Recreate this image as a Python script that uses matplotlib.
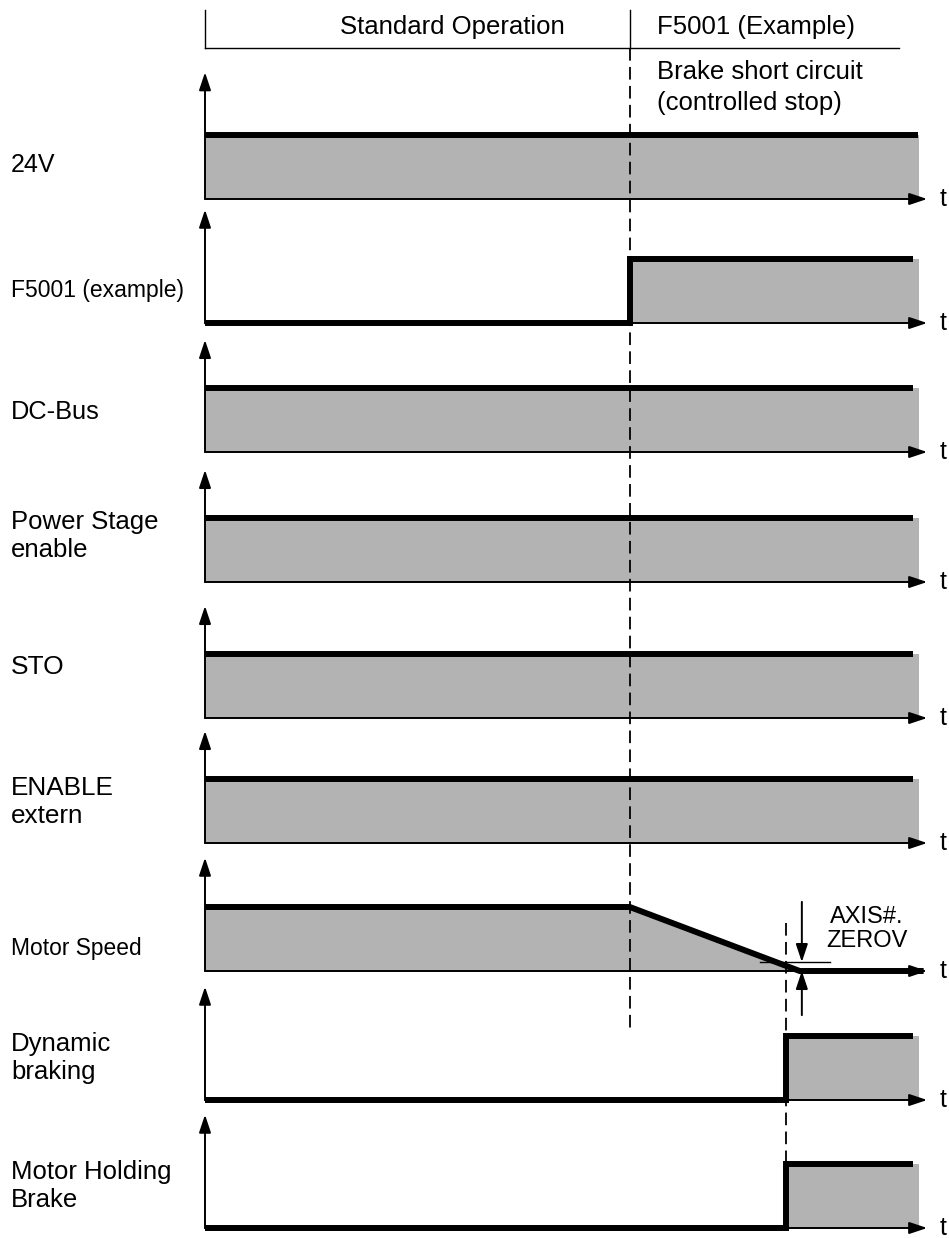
import matplotlib.pyplot as plt
import numpy as np

plt.rcParams['font.family'] = ['Liberation Sans', 'DejaVu Sans']

W, H = 949, 1238

# event times (arbitrary time units)
t_fault = 6.0     # F5001 occurs
t_brake = 8.2     # dynamic braking / holding brake engaged
t_zero = 8.4      # motor speed reaches AXIS#.ZEROV
t_end = 10.0
t_axis = 10.2

labels = ["24V", "F5001 (example)", "DC-Bus", "Power Stage\nenable", "STO",
          "ENABLE\nextern", "Motor Speed", "Dynamic\nbraking", "Motor Holding\nBrake"]
label_sizes = [18, 16.5, 18.3, 18.5, 19, 18.8, 16.4, 18.5, 18.5]

times = [
    [0, 10.07],
    [0, t_fault, t_fault, t_end],
    [0, t_end],
    [0, t_end],
    [0, t_end],
    [0, t_end],
    [0, t_fault, t_zero, 10.15],
    [0, t_brake, t_brake, t_end],
    [0, t_brake, t_brake, t_end],
]
levels = [
    [1, 1],
    [0, 0, 1, 1],
    [1, 1],
    [1, 1],
    [1, 1],
    [1, 1],
    [1, 1, 0, 0],
    [0, 0, 1, 1],
    [0, 0, 1, 1],
]
zerov = 0.14

# layout (pixels)
x0, px_t = 205, 70.8
baselines = [199, 323, 452, 582, 718, 843, 971, 1100, 1228]
label_y = [165, 290, 412, 536, 667, 802, 948, 1058, 1186]
tips = [1.98, 1.77, 1.75, 1.75, 1.75, 1.75, 1.77, 1.77, 1.77]
px_lvl = 64
ylo, yhi = -0.15, 2.1
fill_end = 10.08

xlim = (-x0 / px_t, (W - x0) / px_t)
gray = '#b3b3b3'
lw_sig = 4.3
lw_ax = 1.4
arrow = dict(arrowstyle='-|>,head_length=0.6,head_width=0.2', color='k',
             lw=lw_ax, mutation_scale=18, shrinkA=0, shrinkB=0)

fig = plt.figure(figsize=(W / 100, H / 100), dpi=100)

for i in range(len(labels)):
    base = baselines[i]
    bottom = 1 - (base - ylo * px_lvl) / H
    height = (yhi - ylo) * px_lvl / H
    ax = fig.add_axes([0, bottom, 1, height])
    ax.set_xlim(xlim)
    ax.set_ylim(ylo, yhi)
    ax.axis('off')
    t = np.array(times[i], dtype=float)
    v = np.array(levels[i], dtype=float)
    tf = t.copy()
    if v[-1] > 0:
        tf[-1] = max(tf[-1], fill_end)
    ax.fill_between(tf, v, 0, color=gray, lw=0, zorder=1)
    ax.annotate('', xy=(t_axis, 0), xytext=(0, 0), arrowprops=arrow,
                annotation_clip=False, zorder=2)
    ax.annotate('', xy=(0, tips[i]), xytext=(0, 0), arrowprops=arrow,
                annotation_clip=False, zorder=2)
    ax.plot(t, v, color='k', lw=lw_sig, solid_capstyle='butt',
            solid_joinstyle='miter', zorder=3, clip_on=False)
    ax.text(10.38, 0, 't', fontsize=18, va='center', ha='left')
    if labels[i] == "Motor Speed":
        ax.plot([7.84, 8.83], [zerov, zerov], color='k', lw=1, zorder=3)
        ax.annotate('', xy=(8.43, zerov), xytext=(8.43, 1.08), arrowprops=arrow,
                    annotation_clip=False)
        ax.annotate('', xy=(8.43, 0), xytext=(8.43, -0.69), arrowprops=arrow,
                    annotation_clip=False)
        ax.text(9.35, 0.66, 'AXIS#.\nZEROV', fontsize=17, ha='center',
                va='center', linespacing=1.1)

# overlay for header, phase separators and labels
ov = fig.add_axes([0, 0, 1, 1])
ov.set_xlim(xlim)
ov.set_ylim(H, 0)
ov.axis('off')
ov.plot([0, 0], [10, 48], color='k', lw=1)
ov.plot([t_fault, t_fault], [10, 48], color='k', lw=1)
ov.plot([0, 9.8], [48, 48], color='k', lw=1)
ov.text(3.5, 27, 'Standard Operation', fontsize=18.5, ha='center', va='center')
ov.text(6.38, 27, 'F5001 (Example)', fontsize=18.5, ha='left', va='center')
ov.text(6.38, 72, 'Brake short circuit', fontsize=18.5, ha='left', va='center')
ov.text(6.38, 103, '(controlled stop)', fontsize=18.5, ha='left', va='center')
ov.plot([t_fault, t_fault], [48, 1030], color='k', lw=1.3, ls=(0, (7, 3.5)))
ov.plot([t_brake, t_brake], [923, 1165], color='k', lw=1.3, ls=(0, (7, 3.5)))

for lab, y, fs in zip(labels, label_y, label_sizes):
    ov.text(11 / px_t + xlim[0], y, lab, fontsize=fs, ha='left', va='center',
            linespacing=1.2)

fig.savefig('out.png', dpi=100)
